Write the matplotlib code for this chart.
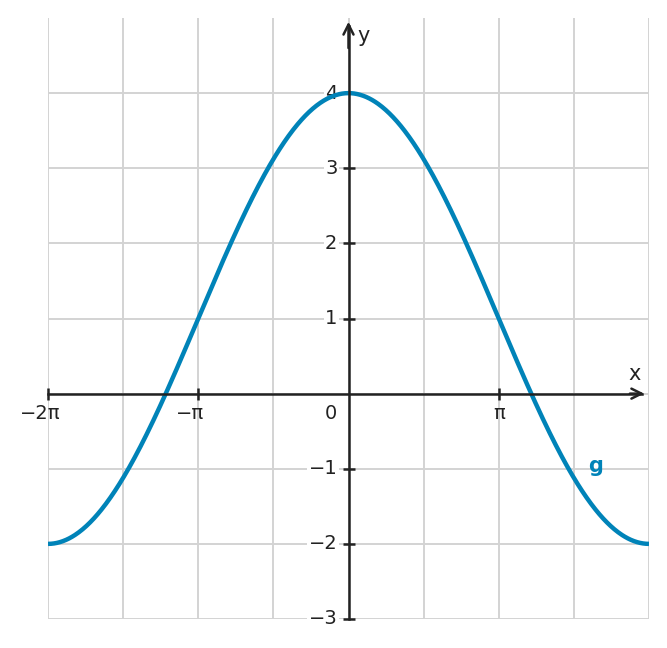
import numpy as np
import matplotlib
matplotlib.use("Agg")
import matplotlib.pyplot as plt
import matplotlib.transforms as mtransforms

# Function g(x) = offset + amplitude * cos(freq * x)
g_offset = 1.0
g_amplitude = 3.0
g_freq = 0.5

x_ticks = [-2 * np.pi, -np.pi, np.pi]
x_tick_labels = ["\u22122\u03c0", "\u2212\u03c0", "\u03c0"]
y_ticks = [-3, -2, -1, 1, 2, 3, 4]
y_tick_labels = ["\u22123", "\u22122", "\u22121", "1", "2", "3", "4"]

curve_color = "#0083B8"
axis_color = "#222222"
grid_color = "#d3d3d3"

W, H = 667, 648
fig = plt.figure(figsize=(W / 100, H / 100), dpi=100)
left, right, top, bottom = 48, 649, 18, 619
ax = fig.add_axes([left / W, (H - bottom) / H, (right - left) / W, (bottom - top) / H])
ax.set_xlim(-2 * np.pi, 2 * np.pi)
ax.set_ylim(-3, 5)

# grid
for gx in np.arange(-4, 5) * np.pi / 2:
    ax.axvline(gx, color=grid_color, lw=1.4, zorder=0)
for gy in range(-3, 5):
    ax.axhline(gy, color=grid_color, lw=1.4, zorder=0)

xs = np.linspace(-2 * np.pi, 2 * np.pi, 800)
ax.plot(xs, g_offset + g_amplitude * np.cos(g_freq * xs), color=curve_color, lw=3.2, zorder=3,
        solid_capstyle="butt")

for s in ["top", "right"]:
    ax.spines[s].set_visible(False)
ax.spines["left"].set_position(("data", 0))
ax.spines["bottom"].set_position(("data", 0))
ax.spines["left"].set_bounds(-3, 4.9)
ax.spines["bottom"].set_bounds(-2 * np.pi, 2 * np.pi - 0.15)
for s in ["left", "bottom"]:
    ax.spines[s].set_color(axis_color)
    ax.spines[s].set_linewidth(1.8)
    ax.spines[s].set_zorder(4)

# arrowheads
ax.annotate("", xy=(2 * np.pi - 0.1, 0), xytext=(2 * np.pi - 0.4, 0),
            arrowprops=dict(arrowstyle="->", color=axis_color, lw=1.8, mutation_scale=18,
                            shrinkA=0, shrinkB=0), annotation_clip=False, zorder=5)
ax.annotate("", xy=(0, 4.95), xytext=(0, 4.6),
            arrowprops=dict(arrowstyle="->", color=axis_color, lw=1.8, mutation_scale=18,
                            shrinkA=0, shrinkB=0), annotation_clip=False, zorder=5)

fs = 14
ax.set_xticks(x_ticks)
ax.set_xticklabels([])
ax.set_yticks(y_ticks)
ax.set_yticklabels(y_tick_labels)
ax.tick_params(axis="both", direction="inout", length=8, width=1.8, color=axis_color)
ax.tick_params(axis="y", pad=4, labelsize=fs, labelcolor=axis_color)
shift = mtransforms.ScaledTranslation(0, 2 / 100, fig.dpi_scale_trans)
for lab in ax.get_yticklabels():
    lab.set_bbox(dict(facecolor="white", edgecolor="none", pad=1))
    lab.set_zorder(6)
    lab.set_transform(lab.get_transform() + shift)

for xv, lab in zip(x_ticks, x_tick_labels):
    off = -8 if xv < 0 else 0
    ax.annotate(lab, xy=(xv, 0), xytext=(off * 0.72, -14), textcoords="offset points",
                ha="center", va="center", fontsize=fs, color=axis_color,
                annotation_clip=False, zorder=6)

ax.text(-0.36, -0.27, "0", ha="center", va="center", fontsize=fs, color=axis_color)
ax.text(5.99, 0.26, "x", ha="center", va="center", fontsize=15, color=axis_color)
ax.text(0.31, 4.76, "y", ha="center", va="center", fontsize=15, color=axis_color)
ax.text(5.17, -0.96, "g", ha="center", va="center", fontsize=15, fontweight="bold", color=curve_color)

ax.set_facecolor("white")
fig.savefig("out.png", dpi=100)
